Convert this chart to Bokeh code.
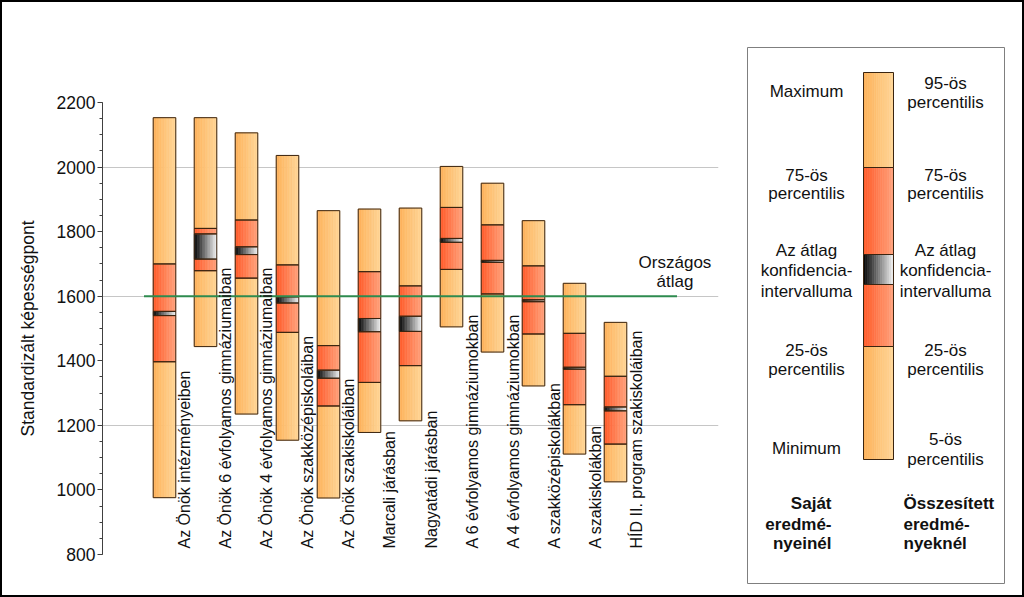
import numpy as np
from bokeh.plotting import figure
from bokeh.layouts import row
from bokeh.models import Range1d, FixedTicker, ColumnDataSource
from bokeh.core.properties import value
from bokeh.embed import file_html
from bokeh.resources import INLINE

# ---------------- data ----------------
categories = [
    "Az Önök intézményeiben",
    "Az Önök 6 évfolyamos gimnáziumaiban",
    "Az Önök 4 évfolyamos gimnáziumaiban",
    "Az Önök szakközépiskoláiban",
    "Az Önök szakiskoláiban",
    "Marcali járásban",
    "Nagyatádi járásban",
    "A 6 évfolyamos gimnáziumokban",
    "A 4 évfolyamos gimnáziumokban",
    "A szakközépiskolákban",
    "A szakiskolákban",
    "HÍD II. program szakiskoláiban",
]
minimum = [976, 1444, 1235, 1154, 975, 1178, 1214, 1505, 1427, 1322, 1111, 1025]
p25 = [1397, 1679, 1656, 1488, 1260, 1333, 1385, 1683, 1607, 1483, 1264, 1142]
ci_low = [1540, 1715, 1729, 1579, 1346, 1490, 1491, 1767, 1705, 1583, 1374, 1245]
ci_high = [1553, 1793, 1753, 1598, 1371, 1531, 1538, 1779, 1711, 1589, 1380, 1257]
p75 = [1700, 1810, 1836, 1697, 1447, 1676, 1632, 1875, 1821, 1694, 1485, 1352]
maximum = [2153, 2153, 2106, 2036, 1865, 1870, 1873, 2002, 1950, 1834, 1640, 1519]
national_avg = 1600
national_label = ["Országos", "átlag"]
y_ticks = [800, 1000, 1200, 1400, 1600, 1800, 2000, 2200]
grid_ticks = [800, 1200, 1600, 2000]
y_title = "Standardizált képességpont"

legend_left = [("Maximum", 91), ("75-ös", 175), ("percentilis", 193),
               ("Az átlag", 250), ("konfidencia-", 270), ("intervalluma", 291),
               ("25-ös", 350), ("percentilis", 369), ("Minimum", 448)]
legend_right = [("95-ös", 83), ("percentilis", 102), ("75-ös", 175), ("percentilis", 193),
                ("Az átlag", 250), ("konfidencia-", 270), ("intervalluma", 291),
                ("25-ös", 350), ("percentilis", 369), ("5-ös", 439), ("percentilis", 459)]
legend_bold_left = [("Saját", 503), ("eredmé-", 524), ("nyeinél", 543)]
legend_bold_right = [("Összesített", 503), ("eredmé-", 524), ("nyeknél", 543)]

# ---------------- styles ----------------
FONT = "Liberation Sans"
TXT = "#111111"
LIGHT = ("#FDB159", "#FFD697")
RED = ("#FF5A28", "#FFA27C")
CIC = ("#000000", "#F2F2F2")
EDGE = "#3a2410"


def lerp(c0, c1, t):
    a = [int(c0[i:i + 2], 16) for i in (1, 3, 5)]
    b = [int(c1[i:i + 2], 16) for i in (1, 3, 5)]
    return "#%02x%02x%02x" % tuple(int(round(a[k] + (b[k] - a[k]) * t)) for k in range(3))


def strips(centers, lows, highs, width, cols, n=14):
    d = dict(left=[], right=[], bottom=[], top=[], color=[])
    for c, lo, hi in zip(centers, lows, highs):
        for k in range(n):
            d["left"].append(c - width / 2 + width * k / n)
            d["right"].append(c - width / 2 + width * (k + 1) / n)
            d["bottom"].append(lo)
            d["top"].append(hi)
            d["color"].append(lerp(cols[0], cols[1], (k + 0.5) / n))
    return d


def draw_box(fig, centers, mins, q1, cl, ch, q3, maxs, width):
    segs = [(mins, q1, LIGHT), (q1, cl, RED), (cl, ch, CIC), (ch, q3, RED), (q3, maxs, LIGHT)]
    for lo, hi, cols in segs:
        src = ColumnDataSource(strips(centers, lo, hi, width, cols))
        fig.quad(left="left", right="right", bottom="bottom", top="top", source=src,
                 fill_color="color", line_color="color", line_width=0.6)
    for lo, hi, cols in segs:
        fig.quad(left=[c - width / 2 for c in centers], right=[c + width / 2 for c in centers],
                 bottom=lo, top=hi, fill_alpha=0, line_color=EDGE, line_width=1)


# ---------------- main chart ----------------
n = len(categories)
xs = list(range(n))
H = 593
p = figure(width=738, height=H, x_range=Range1d(-1.512, 13.512), y_range=Range1d(800, 2200),
           output_backend="svg", toolbar_location=None, x_axis_location=None,
           min_border_left=100, min_border_right=22, min_border_top=100, min_border_bottom=41)
p.frame_align = False
p.outline_line_color = None
p.xgrid.visible = False
p.ygrid.ticker = FixedTicker(ticks=grid_ticks)
p.ygrid.grid_line_color = "#c6c6c6"
p.ygrid.grid_line_width = 1
ax = p.yaxis[0]
ax.ticker = FixedTicker(ticks=y_ticks, minor_ticks=list(range(800, 2201, 50)))
ax.axis_line_color = "#404040"
ax.major_tick_line_color = "#404040"
ax.minor_tick_line_color = "#404040"
ax.major_tick_out = 5
ax.major_tick_in = 0
ax.minor_tick_out = 3
ax.minor_tick_in = 0
ax.major_label_text_font = FONT
ax.major_label_text_font_size = "17.5px"
ax.major_label_text_color = TXT
ax.major_label_standoff = 2
ax.axis_label = y_title
ax.axis_label_text_font = FONT
ax.axis_label_text_font_size = "17.5px"
ax.axis_label_text_font_style = "normal"
ax.axis_label_text_color = TXT
ax.axis_label_standoff = 16

draw_box(p, xs, minimum, p25, ci_low, ci_high, p75, maximum, 0.55)

p.line(x=[-0.5, n + 0.5], y=[national_avg, national_avg], line_color="#2e8b4f", line_width=2)
p.text(x=[n + 0.45], y=[national_avg], text=[national_label[0]], y_offset=-34,
       text_align="center", text_baseline="middle", text_font=value(FONT),
       text_font_size="17px", text_color=TXT)
p.text(x=[n + 0.45], y=[national_avg], text=[national_label[1]], y_offset=-15,
       text_align="center", text_baseline="middle", text_font=value(FONT),
       text_font_size="17px", text_color=TXT)

p.text(x=[x + 0.5 for x in xs], y=[800] * n, text=categories, angle=np.pi / 2,
       y_offset=-6, text_align="left", text_baseline="middle", text_font=value(FONT),
       text_font_size="16px", text_color=TXT)

# ---------------- legend panel ----------------
leg = figure(width=282, height=H, x_range=Range1d(740, 1022), y_range=Range1d(595, 2),
             output_backend="svg", toolbar_location=None, x_axis_location=None,
             y_axis_location=None, min_border=0)
leg.frame_align = False
leg.outline_line_color = None
leg.grid.visible = False
leg.quad(left=[747], right=[1004], top=[47], bottom=[583], fill_color="white",
         line_color="#7f7f7f", line_width=1)
draw_box(leg, [878], [459], [346], [284], [254], [167], [72], 30)

for txt, y in legend_left:
    leg.text(x=[806], y=[y], text=[txt], text_align="center", text_baseline="middle",
             text_font=value(FONT), text_font_size="17px", text_color=TXT)
for txt, y in legend_right:
    leg.text(x=[945], y=[y], text=[txt], text_align="center", text_baseline="middle",
             text_font=value(FONT), text_font_size="17px", text_color=TXT)
for txt, y in legend_bold_left:
    leg.text(x=[831], y=[y], text=[txt], text_align="right", text_baseline="middle",
             text_font=value(FONT), text_font_size="17px", text_font_style="bold",
             text_color=TXT)
for txt, y in legend_bold_right:
    leg.text(x=[903], y=[y], text=[txt], text_align="left", text_baseline="middle",
             text_font=value(FONT), text_font_size="17px", text_font_style="bold",
             text_color=TXT)

layout = row(p, leg, styles={"border": "2px solid black"})
open("out.html", "w").write(file_html(layout, INLINE))
